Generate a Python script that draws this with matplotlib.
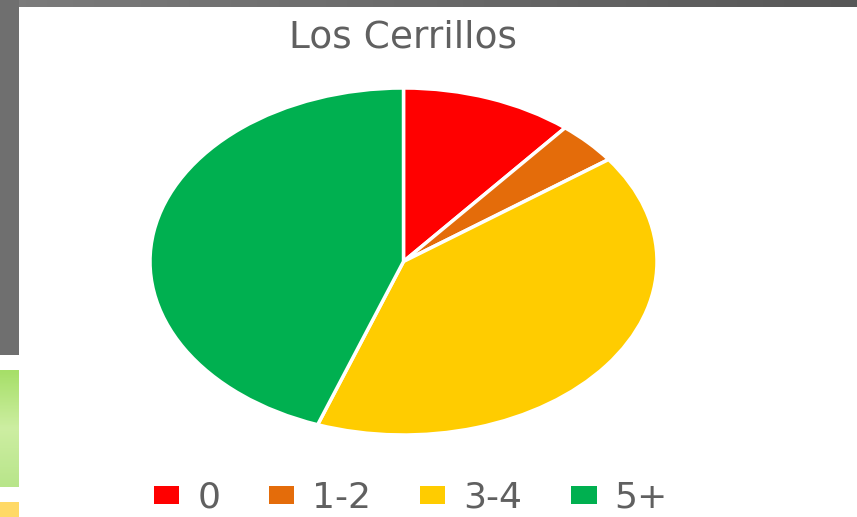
import matplotlib
matplotlib.use("Agg")
import matplotlib.pyplot as plt
import numpy as np
from matplotlib.patches import Rectangle, Patch

labels = ['0', '1-2', '3-4', '5+']
values = [11, 4, 40.5, 44.5]
colors = ['#FF0000', '#E46C0A', '#FFCC00', '#00B050']
title = 'Los Cerrillos'

W, H = 857, 517
fig = plt.figure(figsize=(W / 100, H / 100), dpi=100, facecolor='white')

# background of the slide behind the chart (screenshot edges)
bg = fig.add_axes([0, 0, 1, 1])
grad = np.linspace(0, 1, 200)[None, :]
bg.imshow(grad, cmap=matplotlib.colors.LinearSegmentedColormap.from_list('g', ['#7c7c7c', '#575757']),
          extent=[0, W, 7, 0], aspect='auto')
bg.add_patch(Rectangle((0, 0), 19, 355, color='#6f6f6f', lw=0))
vgrad = np.linspace(0, 1, 100)[:, None]
bg.imshow(vgrad, cmap=matplotlib.colors.LinearSegmentedColormap.from_list('v', ['#a6df68', '#cdeea2', '#b8e58a']),
          extent=[0, 19, 487, 370], aspect='auto')
bg.add_patch(Rectangle((0, 502), 19, 15, color='#ffd966', lw=0))
bg.set_xlim(0, W)
bg.set_ylim(H, 0)
bg.axis('off')

# pie (stretched horizontally like the reference)
ax = fig.add_axes([150 / W, (H - 435) / H, 507 / W, 347 / H])
ax.pie(values, colors=colors, startangle=90, counterclock=False,
       wedgeprops=dict(edgecolor='white', linewidth=2.5))
ax.set_aspect('auto')
ax.set_xlim(-1, 1)
ax.set_ylim(-1, 1)

fig.text(403 / W, 1 - 37 / H, title, ha='center', va='center',
         fontsize=27, color='#606060')

handles = [Patch(facecolor=c, edgecolor='none') for c in colors]
fig.legend(handles, labels, loc='center', bbox_to_anchor=(411 / W, 1 - 498 / H),
           ncol=4, frameon=False, fontsize=26, labelcolor='#606060',
           handlelength=0.7, handleheight=0.4, handletextpad=0.5,
           columnspacing=1.35, borderaxespad=0)

fig.savefig('out.png', dpi=100, facecolor='white')
